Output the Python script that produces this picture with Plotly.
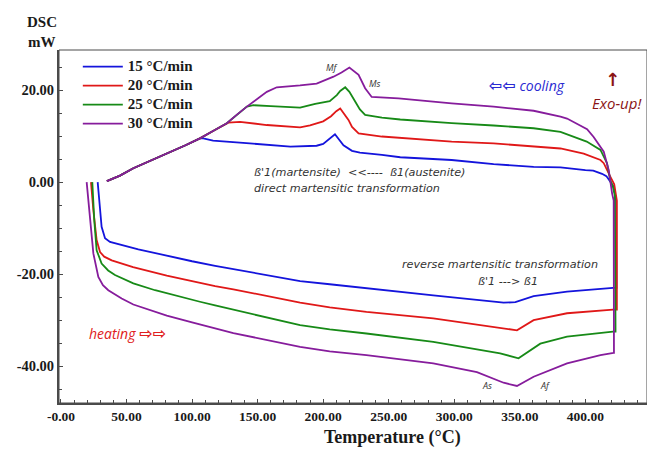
import plotly.graph_objects as go

# ---------------- data ----------------
rates = ["15 °C/min", "20 °C/min", "25 °C/min", "30 °C/min"]
colors = ["#1414dc", "#e01818", "#178a17", "#861c9c"]

# each rate: heating run (left -> right) followed by the cooling run (right -> left)
x15 = [28.0, 29.5, 31.0, 33.6, 37.4, 59.0, 80.7, 100.0, 117.6, 131.5, 182.4, 205.0, 233.0, 284.0, 337.6,
       346.6, 360.5, 386.0, 421.0, 423.7, 423.5, 421.5, 418.0, 416.0, 412.7, 406.0, 400.0, 381.0, 360.5,
       330.0, 298.0, 258.8, 244.8, 228.0, 222.0, 215.5, 209.0, 204.0, 200.0, 195.0, 175.0, 144.0, 131.5,
       116.0, 108.6, 106.0, 95.0, 80.7, 68.0, 55.2, 45.0, 35.0]
y15 = [0.0, -4.6, -9.7, -12.2, -13.0, -14.6, -16.0, -17.2, -18.2, -18.9, -21.5, -22.2, -23.1, -24.6, -26.2,
       -26.1, -24.8, -23.8, -23.0, -23.0, -4.0, -1.0, 0.5, 1.3, 1.8, 2.5, 2.6, 3.2, 3.3,
       3.9, 4.8, 5.4, 5.9, 6.4, 6.8, 8.0, 10.4, 9.2, 8.3, 7.9, 7.7, 8.4, 8.6,
       9.0, 9.5, 9.5, 8.0, 6.2, 4.5, 3.0, 1.4, 0.2]

x20 = [22.9, 24.7, 27.2, 29.8, 33.0, 38.7, 55.0, 71.8, 80.7, 100.0, 117.6, 131.5, 182.4, 205.0, 233.0,
       284.0, 335.0, 347.8, 360.5, 386.0, 421.0, 424.0, 424.0, 422.0, 419.0, 414.0, 411.5, 401.0, 398.7,
       381.0, 360.5, 330.0, 298.0, 258.8, 244.8, 227.0, 222.0, 219.3, 216.8, 213.0, 210.0, 206.0, 200.0,
       190.0, 182.4, 157.0, 136.6, 127.7, 116.0, 106.0, 95.0, 80.7, 68.0, 55.2, 45.0, 35.0]
y20 = [0.0, -6.1, -12.6, -15.2, -16.2, -17.0, -18.5, -19.7, -20.3, -21.5, -22.6, -23.3, -26.2, -27.2, -28.2,
       -29.6, -31.6, -32.2, -30.0, -28.5, -27.7, -27.7, -4.0, -0.5, 1.2, 4.1, 4.8, 5.9, 6.2,
       7.3, 7.7, 8.4, 8.8, 9.6, 9.9, 10.6, 12.0, 13.5, 14.6, 16.0, 15.4, 14.3, 13.2,
       12.3, 11.9, 12.4, 13.1, 12.9, 11.1, 9.5, 8.0, 6.2, 4.5, 3.0, 1.4, 0.2]

x25 = [23.9, 25.4, 27.2, 31.0, 36.0, 41.2, 55.2, 71.8, 106.0, 117.6, 182.4, 205.0, 233.0, 284.0, 335.0,
       349.0, 365.6, 386.0, 421.0, 423.0, 422.5, 421.0, 419.0, 416.5, 411.5, 401.0, 381.0, 360.5, 330.0,
       298.0, 258.8, 244.8, 232.0, 228.0, 224.4, 220.0, 216.8, 213.0, 210.4, 205.0, 193.9, 182.4, 160.0,
       146.8, 141.8, 134.0, 126.5, 116.0, 106.0, 95.0, 80.7, 68.0, 55.2, 45.0, 35.0]
y25 = [0.0, -8.3, -14.8, -17.7, -19.2, -20.2, -22.0, -23.5, -26.0, -26.8, -31.1, -32.0, -32.9, -34.7, -37.2,
       -38.3, -35.1, -33.6, -32.5, -32.5, -3.0, -1.0, 0.4, 4.1, 7.0, 8.8, 10.9, 11.7, 12.3,
       12.8, 13.6, 14.0, 14.6, 15.8, 17.5, 19.6, 20.6, 19.8, 18.9, 17.6, 17.0, 16.2, 16.5,
       16.7, 16.4, 14.6, 12.8, 11.1, 9.5, 8.0, 6.2, 4.5, 3.0, 1.4, 0.2]

x30 = [19.6, 22.1, 24.7, 28.5, 32.0, 36.1, 46.3, 55.2, 71.8, 80.7, 100.0, 117.6, 131.5, 182.4, 205.0,
       233.0, 284.0, 317.3, 337.6, 347.8, 360.5, 386.0, 411.5, 421.5, 421.8, 421.6, 420.4, 417.8, 414.0,
       406.3, 401.3, 396.0, 386.0, 381.0, 360.5, 330.0, 298.0, 257.5, 237.0, 232.0, 227.0, 220.0, 214.0,
       207.9, 195.0, 182.4, 175.0, 164.6, 157.0, 150.0, 141.8, 134.0, 126.5, 116.0, 106.0, 95.0, 80.7,
       68.0, 55.2, 45.0, 35.0]
y30 = [0.0, -8.3, -15.5, -20.6, -22.4, -23.5, -25.3, -26.6, -28.2, -29.0, -30.5, -31.8, -32.8, -35.8, -36.8,
       -37.6, -39.4, -41.3, -43.6, -44.3, -42.3, -39.4, -37.6, -37.1, -37.1, -4.0, -2.5, 2.6, 6.6,
       9.8, 11.5, 12.3, 13.8, 14.2, 15.5, 16.4, 17.1, 18.2, 18.5, 20.4, 23.3, 24.9, 23.8,
       22.9, 21.4, 21.0, 20.8, 20.6, 19.6, 18.2, 16.4, 14.6, 12.8, 11.1, 9.5, 8.0, 6.2,
       4.5, 3.0, 1.4, 0.2]

series_x = [x15, x20, x25, x30]
series_y = [y15, y20, y25, y30]

x_tickvals = [0, 50, 100, 150, 200, 250, 300, 350, 400]
x_ticktext = ["-0.00", "50.00", "100.00", "150.00", "200.00", "250.00", "300.00", "350.00", "400.00"]
y_tickvals = [-40, -20, 0, 20]
y_ticktext = ["-40.00", "-20.00", "0.00", "20.00"]

# ---------------- figure ----------------
fig = go.Figure()
for name, c, xs, ys in zip(rates, colors, series_x, series_y):
    fig.add_trace(go.Scatter(x=xs, y=ys, mode="lines",
                             name='<span style="font-size:15px">' + name + '</span>',
                             line=dict(color=c, width=1.8)))

serif_bold = dict(family="Liberation Serif, Times New Roman, serif", color="#1a1a1a", weight="bold")
note_font = "DejaVu Sans, sans-serif"
dir_font = "Open Sans, DejaVu Sans, sans-serif"
arrow_span = '<span style="font-family:DejaVu Sans;font-size:16px;font-weight:bold;font-style:normal">'

# the page body has an 8px margin, so the figure is sized/margined to put the
# plot area at the same window position as the reference
fig.update_layout(
    width=647, height=441,
    margin=dict(l=51, r=8, t=42, b=46),
    paper_bgcolor="white", plot_bgcolor="white",
    showlegend=True,
    legend=dict(x=0.032, y=0.994, xanchor="left", yanchor="top",
                bgcolor="rgba(0,0,0,0)", borderwidth=0,
                font=dict(size=12.3, **serif_bold), itemwidth=40, tracegroupgap=0),
    xaxis=dict(range=[-1.5, 447], tickvals=x_tickvals, ticktext=x_ticktext,
               showgrid=False, zeroline=False, showline=True, linecolor="#4a4a4a", linewidth=2,
               ticks="inside", ticklen=4, tickcolor="#4a4a4a", tickwidth=1,
               minor=dict(dtick=10, ticks="inside", ticklen=3, tickcolor="#4a4a4a", showgrid=False),
               tickfont=dict(size=13.5, **serif_bold)),
    yaxis=dict(range=[-48, 28.7], tickvals=y_tickvals, ticktext=y_ticktext,
               showgrid=False, zeroline=False, showline=True, linecolor="#4a4a4a", linewidth=2,
               ticks="inside", ticklen=4, tickcolor="#4a4a4a", tickwidth=1,
               minor=dict(dtick=5, ticks="inside", ticklen=3, tickcolor="#4a4a4a", showgrid=False),
               tickfont=dict(size=14.5, **serif_bold)),
    shapes=[dict(type="rect", xref="paper", yref="paper", x0=0, y0=0, x1=1, y1=1,
                 line=dict(color="#4a4a4a", width=1))],
)

note = dict(size=11.2, family=note_font, color="#333333", style="italic")
small = dict(size=9, family=dir_font, color="#333333", style="italic")
annotations = [
    # axis titles
    dict(text="DSC", xref="paper", yref="paper", x=-0.029, y=1.079, showarrow=False,
         xanchor="center", yanchor="middle", font=dict(size=15, **serif_bold)),
    dict(text="mW", xref="paper", yref="paper", x=-0.029, y=1.023, showarrow=False,
         xanchor="center", yanchor="middle", font=dict(size=15, **serif_bold)),
    dict(text="Temperature (°C)", xref="paper", yref="paper", x=0.568, y=-0.099, showarrow=False,
         xanchor="center", yanchor="middle", font=dict(size=18, **serif_bold)),
    # transformation notes
    dict(text="ß'1(martensite)  <<----  ß1(austenite)", x=145.8, y=2.0, showarrow=False,
         xanchor="left", yanchor="middle", font=note),
    dict(text="direct martensitic transformation", x=145.8, y=-1.3, showarrow=False,
         xanchor="left", yanchor="middle", font=note),
    dict(text="reverse martensitic transformation", x=335, y=-18.0, showarrow=False,
         xanchor="center", yanchor="middle", font=note),
    dict(text="ß'1 ---> ß1", x=341, y=-21.5, showarrow=False,
         xanchor="center", yanchor="middle", font=note),
    # peak labels
    dict(text="Mf", x=207, y=24.8, showarrow=False, xanchor="center", yanchor="middle", font=small),
    dict(text="Ms", x=239.7, y=21.5, showarrow=False, xanchor="center", yanchor="middle", font=small),
    dict(text="As", x=325, y=-44.1, showarrow=False, xanchor="center", yanchor="middle", font=small),
    dict(text="Af", x=369.5, y=-44.1, showarrow=False, xanchor="center", yanchor="middle", font=small),
    # direction labels
    dict(text=arrow_span + "⇦⇦</span> cooling", x=355.7, y=20.9, showarrow=False,
         xanchor="center", yanchor="middle",
         font=dict(size=14, family=dir_font, color="#2a2ad2", style="italic")),
    dict(text="heating " + arrow_span + "⇨⇨</span>", x=50.4, y=-33.0, showarrow=False,
         xanchor="center", yanchor="middle",
         font=dict(size=14, family=dir_font, color="#e02020", style="italic")),
    dict(text="↑", x=420.6, y=22.2, showarrow=False, xanchor="center", yanchor="middle",
         font=dict(size=18, family="DejaVu Sans", color="#8b1414", weight="bold")),
    dict(text="Exo-up!", x=424, y=17.2, showarrow=False, xanchor="center", yanchor="middle",
         font=dict(size=15, family=dir_font, color="#8b1414", style="italic")),
]
fig.update_layout(annotations=annotations)

fig.write_html("out.html")
